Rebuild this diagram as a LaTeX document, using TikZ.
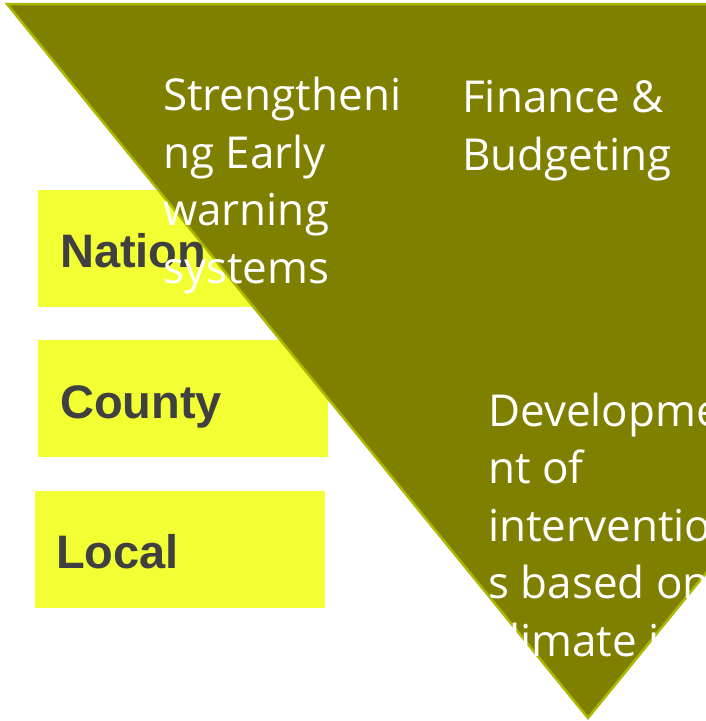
\documentclass[tikz,border=0pt]{standalone}
\usepackage{fontspec}
\setmainfont{Open Sans}
\newfontfamily\boxfont{Liberation Sans}
\definecolor{olivefill}{HTML}{808000}
\definecolor{oliveedge}{HTML}{AAB800}
\definecolor{boxyellow}{HTML}{F2FF33}
\definecolor{boxtext}{HTML}{404040}
\begin{document}
\begin{tikzpicture}[x=1pt,y=-1pt,
  levelbox/.style={fill=boxyellow, draw=none, minimum width=290pt, minimum height=117pt, inner sep=0pt, anchor=north west},
  leveltext/.style={font=\boxfont\bfseries\fontsize{47}{56}\selectfont, text=boxtext, anchor=base west, inner sep=0pt},
  tritext/.style={font=\fontsize{44}{57.5}\selectfont, text=white, align=left, anchor=base west, inner sep=0pt},
  shade layer/.style={fill=black, opacity=#1}]
\useasboundingbox (0,0) rectangle (705,721);
\fill[white] (0,0) rectangle (705,721);
% level boxes
\node[levelbox] (nationbox) at (38,190) {};
\node[levelbox] (countybox) at (38,340) {};
\node[levelbox] (localbox) at (35,491) {};
\node[leveltext] (nation) at (60,267) {Nation};
\node[leveltext] (county) at (60,418) {County};
\node[leveltext] (local) at (56,568) {Local};
% triangle
\coordinate (tl) at (7,4);
\coordinate (tr) at (1169,4);
\coordinate (bt) at (588,718);
\foreach \d/\o in {1/0.10,3/0.07,5/0.05,7/0.03} {
  \begin{scope}[shift={(0,\d)}]
    \fill[shade layer=\o] (tl) -- (tr) -- (bt) -- cycle;
  \end{scope}
}
\filldraw[fill=olivefill, draw=oliveedge, line width=2.5pt] (tl) -- (tr) -- (bt) -- cycle;
% texts in triangle (anchored at the baseline of the last line)
\node[tritext] (early) at (163,283) {Strengtheni\\ng Early\\warning\\systems};
\node[tritext] (finance) at (462,170) {Finance \&\\Budgeting};
\node[tritext] (dev) at (488,656) {Developme\\nt of\\interventio\\s based on\\climate in};
\end{tikzpicture}
\end{document}
